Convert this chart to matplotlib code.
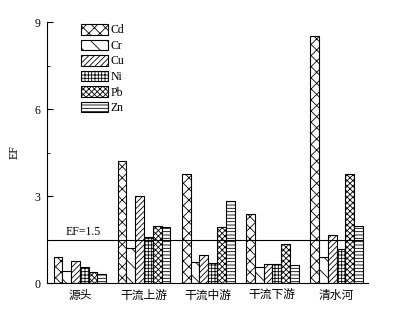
import numpy as np
import matplotlib.pyplot as plt

plt.rcParams['font.family'] = ['Liberation Serif', 'Noto Sans CJK SC']
plt.rcParams['hatch.linewidth'] = 0.6

sites = ['源头', '干流上游', '干流中游', '干流下游', '清水河']
metals = ['Cd', 'Cr', 'Cu', 'Ni', 'Pb', 'Zn']
cd = [0.91, 4.20, 3.77, 2.38, 8.52]
cr = [0.41, 1.21, 0.72, 0.55, 0.90]
cu = [0.76, 2.99, 0.96, 0.65, 1.66]
ni = [0.55, 1.58, 0.69, 0.65, 1.16]
pb = [0.39, 1.97, 1.93, 1.34, 3.77]
zn = [0.32, 1.93, 2.82, 0.62, 1.96]
series = [cd, cr, cu, ni, pb, zn]
hatches = ['xxx', '\\\\', '//////', '+++++', 'xxxxxx', '-----']
threshold = 1.5

fig = plt.figure(figsize=(4.03, 3.10), dpi=100)
ax = fig.add_axes([0.117, 0.087, 0.796, 0.842])

x = np.arange(len(sites))
w = 0.137
for i, (vals, h, name) in enumerate(zip(series, hatches, metals)):
    ax.bar(x + (i - 2.5) * w, vals, w, facecolor='white', edgecolor='black',
           hatch=h, linewidth=0.8, label=name)

ax.axhline(threshold, xmin=0, xmax=0.98, color='black', linewidth=0.8)
ax.text(-0.23, threshold + 0.15, 'EF=1.5', fontsize=8.5)

ax.set_xlim(-0.51, 4.49)
ax.set_ylim(0, 9)
ax.set_yticks([0, 3, 6, 9])
ax.set_yticks([1.5, 4.5, 7.5], minor=True)
ax.set_xticks(x)
ax.set_xticklabels(sites, fontsize=8.5, family=['Noto Sans CJK SC'])
ax.tick_params(axis='y', direction='in', labelsize=8.5, length=4, pad=5)
ax.tick_params(axis='y', which='minor', direction='in', length=2)
ax.tick_params(axis='x', length=0, pad=4)
ax.set_ylabel('EF', fontsize=8.5, labelpad=10)
for s in ['top', 'right']:
    ax.spines[s].set_visible(False)

ax.legend(loc='upper left', bbox_to_anchor=(0.09, 1.01), frameon=False, fontsize=8.5,
          handlelength=2.3, handleheight=1.0, labelspacing=0.27, handletextpad=0.2,
          borderaxespad=0)

fig.savefig('out.png', dpi=100)
